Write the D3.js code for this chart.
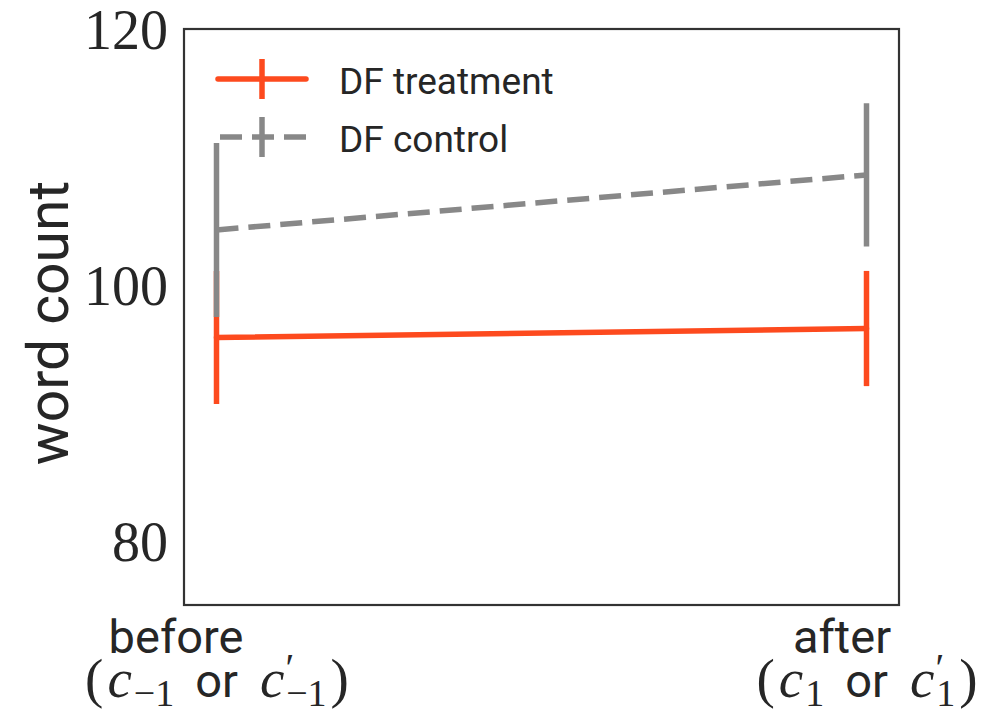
<!DOCTYPE html>
<html>
<head>
<meta charset="utf-8">
<script src="https://cdn.jsdelivr.net/npm/d3@7"></script>
<style>
  html, body { margin: 0; padding: 0; background: #fff; }
  svg { display: block; }
</style>
</head>
<body>
<div id="chart"></div>
<script>
// values
var conditions = ['before', 'after'];
var conditionX = [0, 1];
var treatmentMean = [95.9, 96.6];
var treatmentErr = [5.2, 4.5];
var controlMean = [104.3, 108.6];
var controlErr = [6.8, 5.6];
var seriesNames = ['DF treatment', 'DF control'];
var yTicks = [80, 100, 120];
var yLabel = 'word count';
// second line of each x label: [text, kind]
var xLabelMath = [
  [['(', 'rm'], ['c', 'it'], ['\u22121', 'sub'], ['or', 'sf'], ['c', 'it'], ['\u2032', 'sup'], ['\u22121', 'sub'], [')', 'rm']],
  [['(', 'rm'], ['c', 'it'], ['1', 'sub'], ['or', 'sf'], ['c', 'it'], ['\u2032', 'sup'], ['1', 'sub'], [')', 'rm']]
];

(function() {
  var W = 995, H = 720;
  var pl = 184, pr = 899, pt = 29, pb = 605;
  var RED = '#fd4a1e', GREY = '#888888', INK = '#262626';
  var SANS = 'Roboto, "DejaVu Sans", sans-serif';
  var SERIF = '"Liberation Serif", "DejaVu Serif", serif';

  var svg = d3.select('#chart').append('svg')
    .attr('width', W)
    .attr('height', H);

  var x = d3.scaleLinear().domain([-0.05, 1.05]).range([pl, pr]);
  var y = d3.scaleLinear().domain([75, 120]).range([pb, pt]);

  var series = [
    { name: seriesNames[0], mean: treatmentMean, err: treatmentErr, color: RED, dash: null },
    { name: seriesNames[1], mean: controlMean, err: controlErr, color: GREY, dash: '22,10' }
  ];

  var line = d3.line()
    .x(function(d) { return x(d.x); })
    .y(function(d) { return y(d.m); });

  var plot = svg.append('g').attr('class', 'plot');

  series.forEach(function(s) {
    var pts = conditionX.map(function(cx, i) { return { x: cx, m: s.mean[i], e: s.err[i] }; });
    var g = plot.append('g').attr('class', 'series');

    g.append('path')
      .datum(pts)
      .attr('d', line)
      .attr('fill', 'none')
      .attr('stroke', s.color)
      .attr('stroke-width', 5.5)
      .attr('stroke-dasharray', s.dash)
      .attr('stroke-linecap', s.dash ? 'butt' : 'round');

    g.selectAll('line.err')
      .data(pts)
      .enter().append('line')
      .attr('class', 'err')
      .attr('x1', function(d) { return x(d.x); })
      .attr('x2', function(d) { return x(d.x); })
      .attr('y1', function(d) { return y(d.m - d.e); })
      .attr('y2', function(d) { return y(d.m + d.e); })
      .attr('stroke', s.color)
      .attr('stroke-width', 5.5);
  });

  // frame
  svg.append('rect')
    .attr('x', pl)
    .attr('y', pt)
    .attr('width', pr - pl)
    .attr('height', pb - pt)
    .attr('fill', 'none')
    .attr('stroke', '#333')
    .attr('stroke-width', 2.2);

  // y axis
  var yAxis = svg.append('g')
    .attr('transform', 'translate(' + pl + ',0)')
    .call(d3.axisLeft(y).tickValues(yTicks).tickSize(0).tickPadding(16));
  yAxis.select('.domain').remove();
  yAxis.selectAll('text')
    .attr('font-family', SERIF)
    .attr('font-size', 56)
    .attr('fill', INK)
    .attr('dy', '0.34em');

  svg.append('text')
    .attr('transform', 'translate(68,' + ((pt + pb) / 2 + 6) + ') rotate(-90)')
    .attr('text-anchor', 'middle')
    .attr('font-family', SANS)
    .attr('font-size', 57)
    .attr('fill', INK)
    .text(yLabel);

  // x labels, two lines under each condition
  var xAxis = svg.append('g')
    .attr('transform', 'translate(0,' + pb + ')')
    .call(d3.axisBottom(x).tickValues(conditionX).tickSize(0).tickFormat(''));
  xAxis.select('.domain').remove();

  var firstLineShift = [-41, -25];
  xAxis.selectAll('.tick').each(function(d, i) {
    var t = d3.select(this);
    t.append('text')
      .attr('x', firstLineShift[i])
      .attr('y', 48)
      .attr('text-anchor', 'middle')
      .attr('font-family', SANS)
      .attr('font-size', 47)
      .attr('fill', INK)
      .text(conditions[i]);

    var txt = t.append('text')
      .attr('x', 0)
      .attr('y', 92)
      .attr('text-anchor', 'middle')
      .attr('fill', INK)
      .attr('font-size', 55);

    var lastShift = 0, prev = null;
    xLabelMath[i].forEach(function(tok) {
      var sp = txt.append('tspan').text(tok[0]);
      var shift = 0, dx = null;
      if (tok[1] === 'rm') {
        sp.attr('font-family', SERIF);
        if (prev === 'sub') dx = 4;
      } else if (tok[1] === 'it') {
        sp.attr('font-family', SERIF).attr('font-style', 'italic');
        if (prev === 'sf') dx = 22;
        if (prev === 'rm') dx = 4;
      } else if (tok[1] === 'sf') {
        sp.attr('font-family', SANS).attr('font-size', 47);
        dx = 21;
      } else if (tok[1] === 'sub') {
        sp.attr('font-family', SERIF).attr('font-size', 38);
        shift = 9;
        dx = prev === 'sup' ? -8 : 2;
      } else if (tok[1] === 'sup') {
        sp.attr('font-family', SERIF).attr('font-size', 40);
        shift = -16;
        dx = 1;
      }
      sp.attr('dy', shift - lastShift);
      if (dx !== null) sp.attr('dx', dx);
      lastShift = shift;
      prev = tok[1];
    });
  });

  // legend
  var legend = svg.append('g').attr('class', 'legend');
  var lx0 = 218, lx1 = 306, ly0 = 79, rowGap = 58;
  series.forEach(function(s, i) {
    var g = legend.append('g')
      .attr('transform', 'translate(0,' + (ly0 + i * rowGap) + ')');
    g.append('line')
      .attr('x1', s.dash ? lx0 + 2 : lx0)
      .attr('x2', lx1)
      .attr('stroke', s.color)
      .attr('stroke-width', 5.5)
      .attr('stroke-dasharray', s.dash)
      .attr('stroke-linecap', s.dash ? 'butt' : 'round');
    g.append('line')
      .attr('x1', (lx0 + lx1) / 2)
      .attr('x2', (lx0 + lx1) / 2)
      .attr('y1', -20)
      .attr('y2', 20)
      .attr('stroke', s.color)
      .attr('stroke-width', 5.5);
    g.append('text')
      .attr('x', 339)
      .attr('y', 15)
      .attr('font-family', SANS)
      .attr('font-size', 37)
      .attr('fill', INK)
      .text(s.name);
  });
})();
</script>
</body>
</html>
